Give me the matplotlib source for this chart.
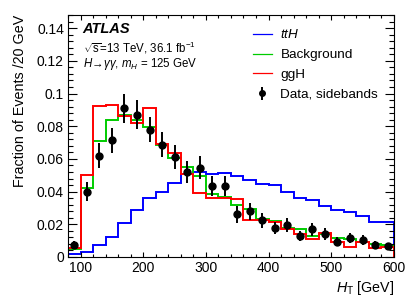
import numpy as np
import matplotlib
matplotlib.use('Agg')
import matplotlib.pyplot as plt
from matplotlib.ticker import MultipleLocator

plt.rcParams['font.family'] = ['Liberation Sans', 'DejaVu Sans']
plt.rcParams['mathtext.fontset'] = 'custom'
plt.rcParams['mathtext.rm'] = 'Liberation Sans'
plt.rcParams['mathtext.it'] = 'Liberation Sans:italic'
plt.rcParams['mathtext.bf'] = 'Liberation Sans:bold'

# H_T bins, 20 GeV wide
bin_lo = 80
bin_hi = 600
bin_width = 20

tth = [0.0017, 0.0031, 0.0072, 0.0125, 0.0210, 0.0290, 0.0363, 0.0400, 0.0454,
       0.0508, 0.0520, 0.0508, 0.0516, 0.0495, 0.0473, 0.0444, 0.0439, 0.0400,
       0.0359, 0.0349, 0.0310, 0.0290, 0.0277, 0.0250, 0.0216, 0.0216]
background = [0.0050, 0.0420, 0.0710, 0.0840, 0.0867, 0.0840, 0.0797, 0.0685, 0.0607,
              0.0550, 0.0495, 0.0387, 0.0367, 0.0316, 0.0295, 0.0234, 0.0220, 0.0180,
              0.0169, 0.0128, 0.0139, 0.0114, 0.0108, 0.0094, 0.0081, 0.0073]
ggh = [0.0055, 0.0500, 0.0922, 0.0930, 0.0862, 0.0818, 0.0910, 0.0690, 0.0638,
       0.0510, 0.0393, 0.0359, 0.0360, 0.0353, 0.0224, 0.0224, 0.0216, 0.0169,
       0.0143, 0.0108, 0.0145, 0.0094, 0.0063, 0.0094, 0.0053, 0.0061]
data = [0.0075, 0.0400, 0.0620, 0.0714, 0.0910, 0.0870, 0.0780, 0.0687, 0.0612,
        0.0520, 0.0546, 0.0434, 0.0434, 0.0260, 0.0280, 0.0224, 0.0175, 0.0196,
        0.0128, 0.0169, 0.0139, 0.0094, 0.0114, 0.0104, 0.0073, 0.0065]
data_err = [0.0020, 0.0060, 0.0075, 0.0078, 0.0089, 0.0089, 0.0075, 0.0078, 0.0073,
            0.0069, 0.0071, 0.0064, 0.0064, 0.0050, 0.0053, 0.0046, 0.0036, 0.0041,
            0.0033, 0.0038, 0.0036, 0.0030, 0.0030, 0.0030, 0.0025, 0.0023]

edges = np.arange(bin_lo, bin_hi + 1, bin_width)
centers = 0.5 * (edges[:-1] + edges[1:])

fig = plt.figure(figsize=(4.15, 3.03), dpi=100)
ax = fig.add_axes([0.164, 0.152, 0.785, 0.798])

lw = 1.4
h_tth = ax.stairs(tth, edges, color='#0000ff', lw=lw, label=r'$ttH$')
h_bkg = ax.stairs(background, edges, color='#00cc00', lw=lw, label='Background')
h_ggh = ax.stairs(ggh, edges, color='#ff0000', lw=lw, label='ggH')
h_data = ax.errorbar(centers, data, yerr=data_err, fmt='o', color='black',
                     markersize=5, elinewidth=1.4, capsize=0, label='Data, sidebands')

ax.set_xlim(bin_lo, bin_hi)
ax.set_ylim(0, 0.148)

ax.xaxis.set_major_locator(MultipleLocator(100))
ax.xaxis.set_minor_locator(MultipleLocator(20))
ax.yaxis.set_minor_locator(MultipleLocator(0.004))
ax.set_yticks([0, 0.02, 0.04, 0.06, 0.08, 0.1, 0.12, 0.14])
ax.set_yticklabels(['0', '0.02', '0.04', '0.06', '0.08', '0.1', '0.12', '0.14'])

ax.tick_params(which='both', direction='in', top=True, right=True, labelsize=10)
ax.tick_params(axis='x', which='major', length=3.6, width=0.8, pad=3)
ax.tick_params(axis='x', which='minor', length=2.0, width=0.8)
ax.tick_params(axis='y', which='major', length=6.5, width=0.8, pad=3)
ax.tick_params(axis='y', which='minor', length=3.4, width=0.8)
for s in ax.spines.values():
    s.set_linewidth(0.8)

ax.set_xlabel(r'$H_{\mathrm{T}}$ [GeV]', fontsize=10.3, loc='right', labelpad=3)
ax.set_ylabel('Fraction of Events /20 GeV', fontsize=10.3, loc='top', labelpad=7)

ax.text(0.045, 0.942, 'ATLAS', transform=ax.transAxes, fontsize=10.5,
        fontweight='bold', fontstyle='italic', va='center', ha='left')
ax.text(0.045, 0.864, r'$\sqrt{\mathrm{s}}$=13 TeV, 36.1 fb$^{-1}$',
        transform=ax.transAxes, fontsize=8.3, va='center', ha='left')
ax.text(0.045, 0.798, r'$H\!\rightarrow\!\gamma\gamma$, $m_{H}$ = 125 GeV',
        transform=ax.transAxes, fontsize=8.3, va='center', ha='left')

leg = ax.legend(handles=[h_tth, h_bkg, h_ggh, h_data], loc='upper left',
                bbox_to_anchor=(0.567, 0.945), frameon=False, fontsize=9.7,
                handlelength=1.4, handletextpad=0.65, labelspacing=0.55,
                borderaxespad=0, borderpad=0, markerscale=0.8)
for h in leg.legend_handles[:3]:
    h.set_linewidth(0.9)

fig.savefig('out.png', dpi=100)
